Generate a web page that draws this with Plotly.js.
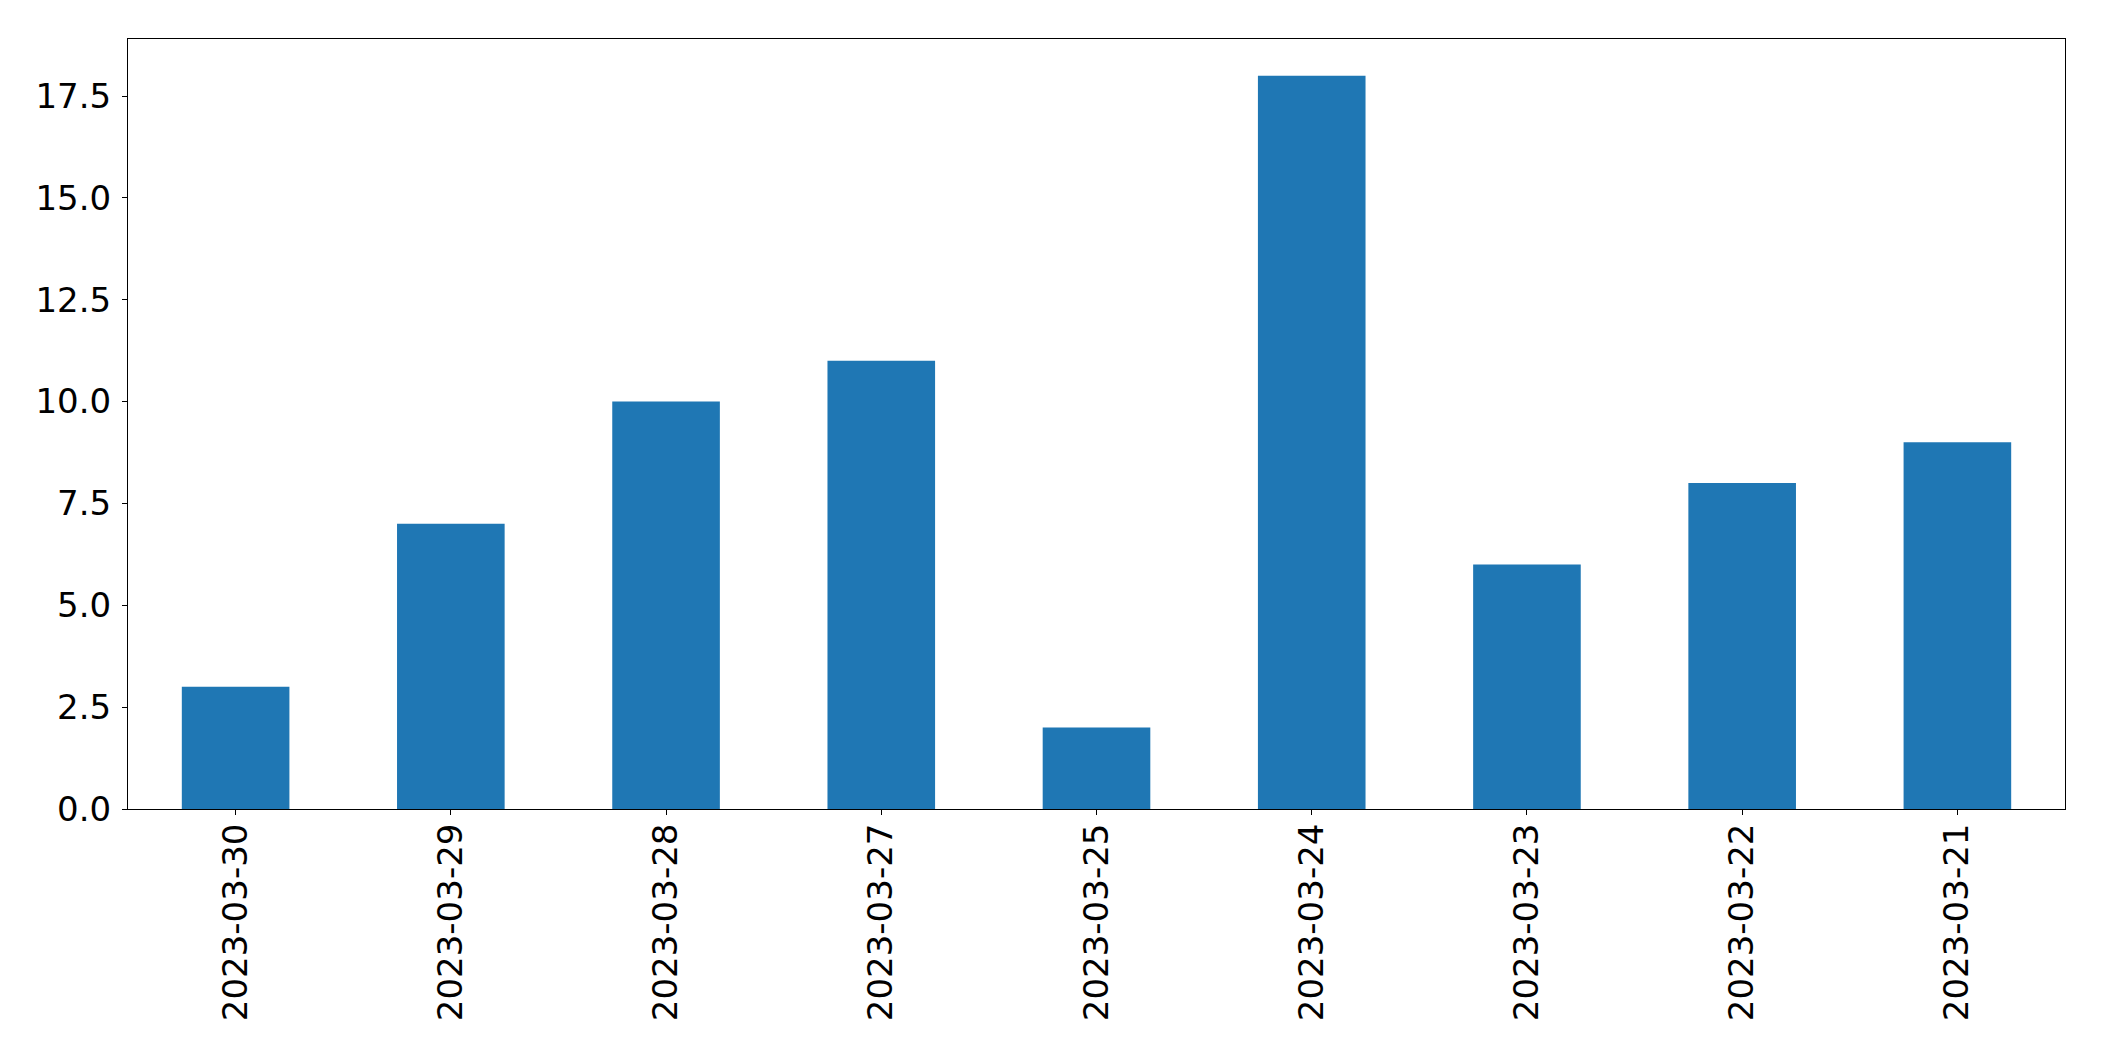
<!DOCTYPE html>
<html>
<head>
<meta charset="utf-8">
<script src="https://cdn.plot.ly/plotly-3.0.1.min.js"></script>
<style>html,body{margin:0;padding:0;background:#fff;}#chart{width:2104px;height:1061px;}</style>
</head>
<body>
<div id="chart"></div>
<script>
const categories = ["2023-03-30","2023-03-29","2023-03-28","2023-03-27","2023-03-25","2023-03-24","2023-03-23","2023-03-22","2023-03-21"];
const counts = [3, 7, 10, 11, 2, 18, 6, 8, 9];
const yTickVals = [0, 2.5, 5, 7.5, 10, 12.5, 15, 17.5];

const trace = {
  type: 'bar',
  x: categories,
  y: counts,
  width: 0.5,
  marker: {color: '#1f77b4', line: {width: 0}},
  hoverinfo: 'x+y'
};

const layout = {
  width: 2104,
  height: 1061,
  autosize: false,
  paper_bgcolor: '#ffffff',
  plot_bgcolor: '#ffffff',
  margin: {l: 127.5, r: 38.7, t: 39.3, b: 252, pad: 0},
  showlegend: false,
  font: {family: 'DejaVu Sans', size: 34, color: '#000000'},
  xaxis: {
    type: 'category',
    range: [-0.5, 8.5],
    tickangle: -90,
    ticks: 'outside',
    ticklen: 5,
    tickwidth: 1,
    tickcolor: '#000',
    showline: true,
    linecolor: '#000',
    linewidth: 1,
    mirror: true,
    showgrid: false,
    zeroline: false,
    tickfont: {family: 'DejaVu Sans', size: 34, color: '#000'},
    ticklabelstandoff: -5
  },
  yaxis: {
    range: [0, 18.9],
    tickvals: yTickVals,
    tickformat: '.1f',
    ticks: 'outside',
    ticklen: 5,
    tickwidth: 1,
    tickcolor: '#000',
    showline: true,
    linecolor: '#000',
    linewidth: 1,
    mirror: true,
    showgrid: false,
    zeroline: false,
    tickfont: {family: 'DejaVu Sans', size: 34, color: '#000'},
    ticklabelstandoff: 4
  }
};

Plotly.newPlot('chart', [trace], layout, {displayModeBar: false, staticPlot: true});
</script>
</body>
</html>
